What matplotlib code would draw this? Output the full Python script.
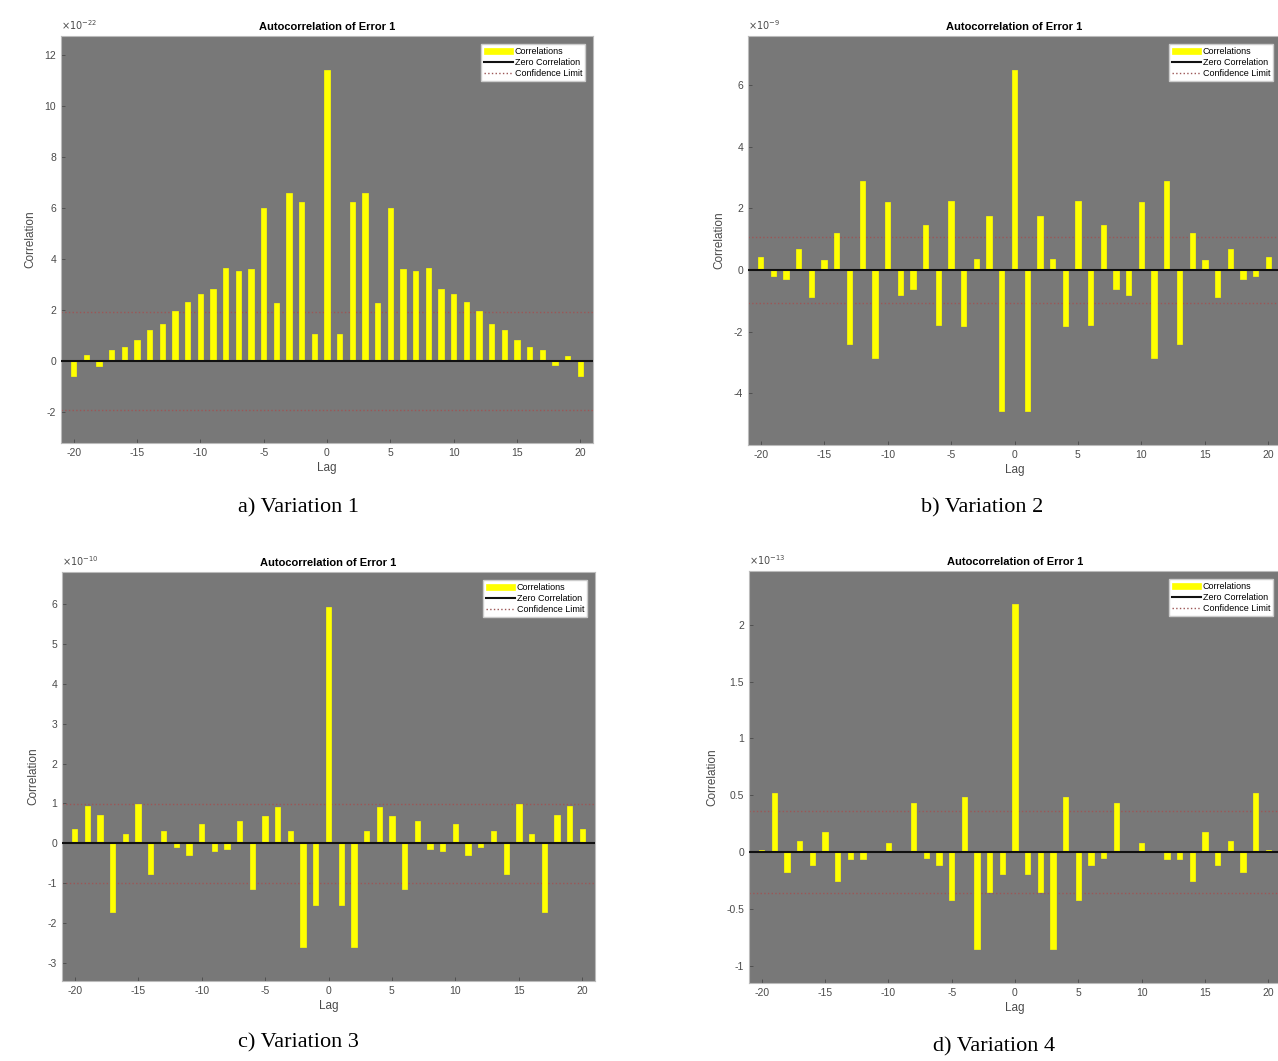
import numpy as np
import matplotlib.pyplot as plt

plt.rcParams['font.family'] = ['Liberation Sans', 'DejaVu Sans']
plt.rcParams['axes.unicode_minus'] = False

lags = np.arange(-20, 21)

# values in units of 10^exp
corr_a = [-0.61, 0.21, -0.2, 0.43, 0.55, 0.81, 1.2, 1.45, 1.96, 2.29, 2.61, 2.82, 3.64, 3.52, 3.59,
          5.97, 2.28, 6.56, 6.22, 1.04, 11.38, 1.04, 6.22, 6.56, 2.28, 5.97, 3.59, 3.52, 3.64, 2.82,
          2.61, 2.29, 1.96, 1.45, 1.2, 0.81, 0.55, 0.43, -0.18, 0.2, -0.61]
corr_b = [0.43, -0.19, -0.3, 0.68, -0.86, 0.32, 1.19, -2.4, 2.89, -2.86, 2.21, -0.81, -0.61, 1.47,
          -1.78, 2.25, -1.83, 0.35, 1.75, -4.59, 6.5, -4.59, 1.75, 0.35, -1.83, 2.25, -1.78, 1.47,
          -0.61, -0.81, 2.21, -2.86, 2.89, -2.4, 1.19, 0.32, -0.86, 0.68, -0.3, -0.19, 0.43]
corr_c = [0.35, 0.93, 0.71, -1.71, 0.24, 0.98, -0.77, 0.32, -0.08, -0.29, 0.48, -0.19, -0.13, 0.56,
          -1.15, 0.68, 0.92, 0.31, -2.58, -1.54, 5.92, -1.54, -2.58, 0.31, 0.92, 0.68, -1.15, 0.56,
          -0.13, -0.19, 0.48, -0.29, -0.08, 0.32, -0.77, 0.98, 0.24, -1.71, 0.71, 0.93, 0.35]
corr_d = [0.02, 0.52, -0.17, 0.1, -0.11, 0.18, -0.25, -0.06, -0.06, 0.01, 0.08, 0.01, 0.43, -0.05,
          -0.11, -0.42, 0.49, -0.85, -0.35, -0.19, 2.18, -0.19, -0.35, -0.85, 0.49, -0.42, -0.11,
          -0.05, 0.43, 0.01, 0.08, 0.01, -0.06, -0.06, -0.25, 0.18, -0.11, 0.1, -0.17, 0.52, 0.02]

conf = [1.93, 1.07, 0.99, 0.36]
exps = [-22, -9, -10, -13]
ylims = [(-3.22, 12.73), (-5.68, 7.6), (-3.44, 6.79), (-1.146, 2.47)]
yticks = [np.arange(-2, 13, 2), np.arange(-4, 7, 2), np.arange(-3, 7, 1), np.arange(-1, 2.1, 0.5)]
captions = ['a) Variation 1', 'b) Variation 2', 'c) Variation 3', 'd) Variation 4']

W, H = 1278, 1061
fig = plt.figure(figsize=(W / 100, H / 100), dpi=100)
fig.patch.set_facecolor('white')

# pixel boxes: left, top, right, bottom
boxes = [(61, 36, 593, 443), (748, 36, 1281, 445), (62, 572, 595, 981), (749, 571, 1281, 983)]
cap_pos = [(298, 508), (982, 508), (298, 1043), (994, 1047)]

grey = '#4a4a4a'
for i, corr in enumerate([corr_a, corr_b, corr_c, corr_d]):
    l, t, r, b = boxes[i]
    ax = fig.add_axes([l / W, 1 - b / H, (r - l) / W, (b - t) / H])
    ax.set_facecolor('#787878')
    h1 = ax.bar(lags, corr, width=0.42, color='#ffff00', edgecolor='#ffff00', linewidth=0.5,
                label='Correlations', zorder=2)
    h2 = ax.axhline(0, color='#111111', linewidth=1.5, label='Zero Correlation', zorder=3)
    h3 = ax.axhline(conf[i], color='#9c5656', linewidth=1.0, linestyle=':', label='Confidence Limit', zorder=1)
    ax.axhline(-conf[i], color='#9c5656', linewidth=1.0, linestyle=':', zorder=1)
    ax.set_xlim(-21, 21)
    ax.set_ylim(*ylims[i])
    ax.set_xticks(np.arange(-20, 21, 5))
    ax.set_yticks(yticks[i])
    ax.set_yticklabels(['%g' % v for v in yticks[i]])
    ax.tick_params(direction='in', length=3, labelsize=7.5, colors=grey, width=0.6)
    for s in ax.spines.values():
        s.set_color('#bbbbbb')
        s.set_linewidth(0.8)
    ax.set_title('Autocorrelation of Error 1', fontsize=8, fontweight='bold', pad=4)
    ax.set_xlabel('Lag', fontsize=8.5, color=grey, labelpad=3)
    ax.set_ylabel('Correlation', fontsize=8.5, color=grey, labelpad=6)
    ax.text(0.0, 1.01, r'$\times10^{%d}$' % exps[i], transform=ax.transAxes, fontsize=7,
            color=grey, ha='left', va='bottom')
    leg = ax.legend(handles=[h1, h2, h3], loc='upper right', fontsize=6.5, frameon=True, fancybox=False,
                    handlelength=3.2, handletextpad=0.2, borderpad=0.3, labelspacing=0.25,
                    borderaxespad=0.9)
    leg.get_frame().set_facecolor('white')
    leg.get_frame().set_edgecolor('#cccccc')
    leg.get_frame().set_alpha(1)
    cx, cy = cap_pos[i]
    fig.text(cx / W, 1 - cy / H, captions[i], fontsize=16, family='Liberation Serif',
             ha='center', va='center')

fig.savefig('out.png', dpi=100, facecolor='white')
